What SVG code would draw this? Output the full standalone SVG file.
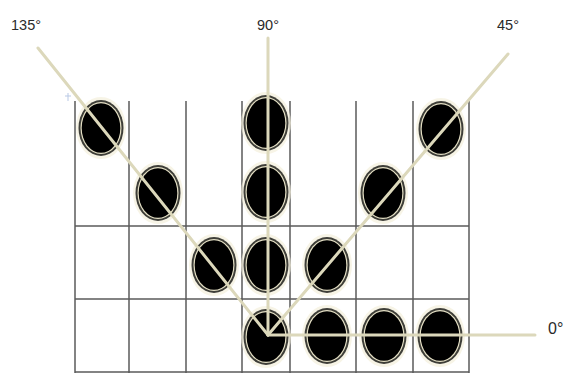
<svg xmlns="http://www.w3.org/2000/svg" xmlns:xlink="http://www.w3.org/1999/xlink" width="567" height="375" viewBox="0 0 567 375">
<style>
.grid line{stroke:#5a5a5a;stroke-width:1.5}
.ray{stroke:#dcd8bb;stroke-width:3;stroke-linecap:round}
.lbl{font-family:"Liberation Sans","Open Sans",sans-serif;font-size:14.5px;fill:#2a2a2a}
</style>
<defs>
<g id="dot">
<ellipse cx="0" cy="0" rx="25" ry="31" fill="#f3f0dc" opacity="0.7"/>
<ellipse cx="0" cy="0" rx="22.5" ry="28" fill="#3e3e38"/>
<ellipse cx="0" cy="0" rx="20.5" ry="26" fill="#e6e1c6"/>
<ellipse cx="0" cy="0" rx="19.3" ry="24.8" fill="#000"/>
</g>
</defs>
<rect width="567" height="375" fill="#fff"/>
<g class="grid" id="grid">
<line x1="75" y1="101" x2="75" y2="373"/>
<line x1="129" y1="101" x2="129" y2="373"/>
<line x1="186" y1="101" x2="186" y2="373"/>
<line x1="242" y1="101" x2="242" y2="373"/>
<line x1="290" y1="101" x2="290" y2="373"/>
<line x1="356" y1="101" x2="356" y2="373"/>
<line x1="413" y1="101" x2="413" y2="373"/>
<line x1="469" y1="101" x2="469" y2="373"/>
<line x1="75" y1="226" x2="469" y2="226"/>
<line x1="75" y1="299" x2="469" y2="299"/>
<line x1="75" y1="372" x2="469" y2="372"/>
</g>
<g id="anchor" stroke="#a9bde0" stroke-width="1" fill="none" opacity="0.8">
<line x1="68" y1="93" x2="68" y2="101"/>
<line x1="65" y1="96" x2="71" y2="96"/>
</g>
<g id="n1"><use xlink:href="#dot" x="101" y="128"/></g>
<g id="n2"><use xlink:href="#dot" x="266" y="123"/></g>
<g id="n3"><use xlink:href="#dot" x="441" y="129"/></g>
<g id="n4"><use xlink:href="#dot" x="158" y="193"/></g>
<g id="n5"><use xlink:href="#dot" x="266" y="192"/></g>
<g id="n6"><use xlink:href="#dot" x="383" y="193"/></g>
<g id="n7"><use xlink:href="#dot" x="214" y="265"/></g>
<g id="n8"><use xlink:href="#dot" x="266" y="265"/></g>
<g id="n9"><use xlink:href="#dot" x="327" y="265"/></g>
<g id="n10"><use xlink:href="#dot" x="266" y="337"/></g>
<g id="n11"><use xlink:href="#dot" x="327" y="336"/></g>
<g id="n12"><use xlink:href="#dot" x="384" y="336"/></g>
<g id="n13"><use xlink:href="#dot" x="440" y="336"/></g>
<g id="connectors" class="ray">
<line x1="38" y1="48" x2="268" y2="335"/>
<line x1="268" y1="38" x2="268" y2="335"/>
<line x1="508" y1="54" x2="268" y2="335"/>
<line x1="268" y1="335" x2="535" y2="335"/>
</g>
<g id="labels">
<text class="lbl" x="11" y="30">135°</text>
<text class="lbl" x="257" y="30">90°</text>
<text class="lbl" x="497" y="30">45°</text>
<text class="lbl" x="548" y="334" style="font-size:16px">0°</text>
</g>
</svg>
